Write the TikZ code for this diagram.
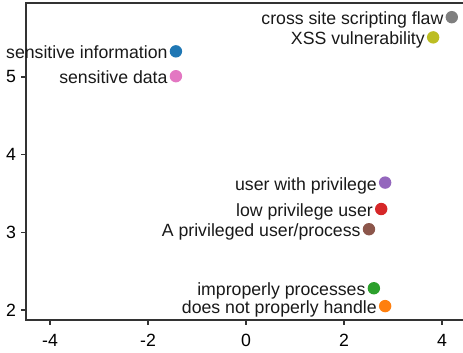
\documentclass[tikz,border=0pt]{standalone}
\usepackage{fontspec}
\setmainfont{Liberation Sans}
\begin{document}
\begin{tikzpicture}[x=24.5pt,y=38.835pt,
  font=\fontsize{8.85}{10}\selectfont,
  spine/.style={line width=0.8pt,draw=black!80},
  tickmark/.style={line width=0.6pt,draw=black!80},
  ticklbl/.style={inner sep=0pt,text=black},
  dot/.style={circle,inner sep=0pt,minimum size=6.2pt,fill=#1,draw=none},
  lbl/.style={anchor=base east,inner sep=0pt,xshift=-4pt,yshift=-3.75pt,text=black!90}]
\definecolor{tblue}{HTML}{1F77B4}
\definecolor{torange}{HTML}{FF7F0E}
\definecolor{tgreen}{HTML}{2CA02C}
\definecolor{tred}{HTML}{D62728}
\definecolor{tpurple}{HTML}{9467BD}
\definecolor{tbrown}{HTML}{8C564B}
\definecolor{tpink}{HTML}{E377C2}
\definecolor{tgray}{HTML}{7F7F7F}
\definecolor{tolive}{HTML}{BCBD22}
\useasboundingbox (-5.0204,1.4464) rectangle (4.4286,5.9913);
% spines
\coordinate (tl) at (-4.49,5.9526);
\coordinate (bl) at (-4.49,1.8713);
\coordinate (br) at (4.4286,1.8713);
\coordinate (tr) at (4.4286,5.9526);
\draw[spine] (tr) -- (tl) -- (bl) -- (br);
% y ticks
\foreach \v in {2,3,4,5}{
  \coordinate (ya\v) at (-4.49,\v);
  \coordinate (yb\v) at (-4.592,\v);
  \draw[tickmark] (ya\v) -- (yb\v);
  \node[ticklbl,anchor=east] (yl\v) at (-4.684,\v) {\v};
}
% x ticks
\foreach \v in {-4,-2,0,2,4}{
  \coordinate (xa\v) at (\v,1.8713);
  \coordinate (xb\v) at (\v,1.8069);
  \draw[tickmark] (xa\v) -- (xb\v);
  \node[ticklbl,anchor=base] (xl\v) at (\v,1.5275) {\v};
}
% points
\node[dot=tblue]   (p1) at (-1.43,5.33) {};
\node[dot=tpink]   (p2) at (-1.43,5.01) {};
\node[dot=tgray]   (p3) at (4.20,5.77) {};
\node[dot=tolive]  (p4) at (3.82,5.51) {};
\node[dot=tpurple] (p5) at (2.84,3.64) {};
\node[dot=tred]    (p6) at (2.76,3.30) {};
\node[dot=tbrown]  (p7) at (2.51,3.04) {};
\node[dot=tgreen]  (p8) at (2.61,2.28) {};
\node[dot=torange] (p9) at (2.84,2.05) {};
% labels
\node[lbl] (l1) at (p1.center) {sensitive information};
\node[lbl] (l2) at (p2.center) {sensitive data};
\node[lbl] (l3) at (p3.center) {cross site scripting flaw};
\node[lbl] (l4) at (p4.center) {XSS vulnerability};
\node[lbl] (l5) at (p5.center) {user with privilege};
\node[lbl] (l6) at (p6.center) {low privilege user};
\node[lbl] (l7) at (p7.center) {A privileged user/process};
\node[lbl] (l8) at (p8.center) {improperly processes};
\node[lbl] (l9) at (p9.center) {does not properly handle};
\end{tikzpicture}
\end{document}
